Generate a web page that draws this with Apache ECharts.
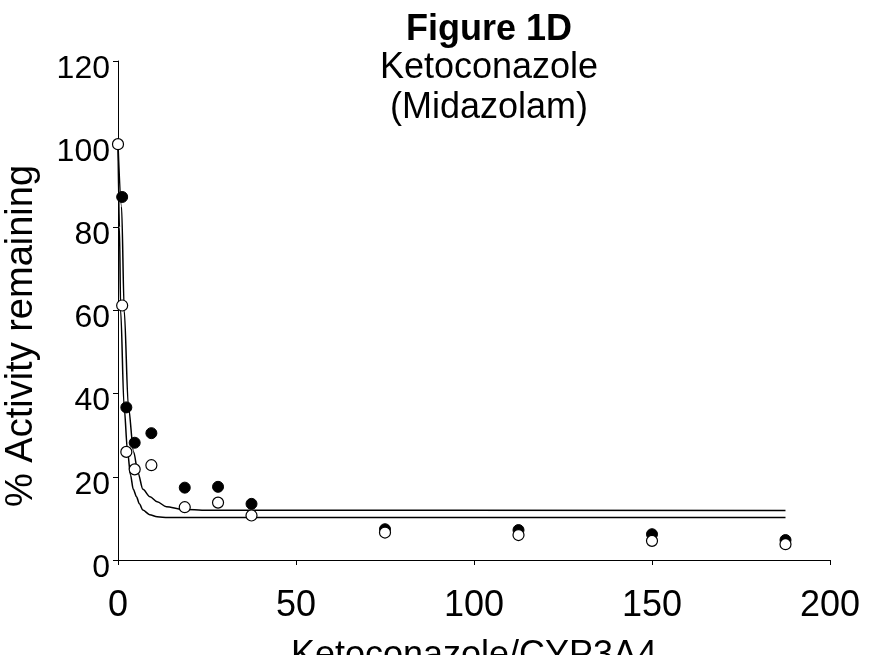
<!DOCTYPE html>
<html>
<head>
<meta charset="utf-8">
<script src="https://cdn.jsdelivr.net/npm/echarts@6/dist/echarts.min.js"></script>
<style>html,body{margin:0;padding:0;background:#fff;}#c{width:888px;height:655px;}</style>
</head>
<body>
<div id="c"></div>
<script>
// Data
var xTicks = [0, 50, 100, 150, 200];
var yTicks = [0, 20, 40, 60, 80, 100, 120];
var ratioFilled = [1.17, 2.34, 4.69, 9.375, 18.75, 28.1, 37.5, 75, 112.5, 150, 187.5];
var activityFilled = [87.3, 36.7, 28.2, 30.5, 17.4, 17.6, 13.5, 7.4, 7.2, 6.2, 4.8];
var ratioOpen = [0, 1.17, 2.34, 4.69, 9.375, 18.75, 28.1, 37.5, 75, 112.5, 150, 187.5];
var activityOpen = [100, 61.2, 26.0, 21.8, 22.8, 12.7, 13.8, 10.7, 6.6, 6.0, 4.6, 3.8];
// fitted curves
var fitFilledX = [0, 1.0, 1.75, 2.9, 4.4, 5.6, 7, 9, 11, 13.6, 18, 25, 187.5];
var fitFilledY = [100, 85, 60, 37, 26, 21, 17, 15.2, 14, 12.8, 12.2, 11.95, 11.9];
var fitOpenX = [0, 0.4, 0.75, 1.7, 2.7, 3.5, 4.3, 5.2, 6, 7, 8.9, 11, 14, 187.5];
var fitOpenY = [100, 80, 60, 37, 26, 20.5, 17, 15.2, 13.5, 12.0, 10.9, 10.4, 10.2, 10.2];

function pairs(xs, ys) { return xs.map(function (x, i) { return [x, ys[i]]; }); }

var FONT = '"Liberation Sans", Arial, sans-serif';
var chart = echarts.init(document.getElementById('c'), null, { renderer: 'canvas' });
chart.setOption({
  animation: false,
  backgroundColor: '#fff',
  grid: { left: 118, right: 58, top: 61, bottom: 95, containLabel: false, outerBoundsMode: 'none' },
  xAxis: {
    type: 'value', min: xTicks[0], max: xTicks[xTicks.length - 1], interval: 50,
    axisLine: { show: true, onZero: false, lineStyle: { color: '#000', width: 1 } },
    axisTick: { show: true, inside: false, length: 5, lineStyle: { color: '#000' } },
    splitLine: { show: false },
    axisLabel: { color: '#000', fontSize: 36, fontFamily: FONT, margin: 28 },
    name: 'Ketoconazole/CYP3A4', nameLocation: 'middle', nameGap: 78,
    nameTextStyle: { color: '#000', fontSize: 36, fontFamily: FONT }
  },
  yAxis: {
    type: 'value', min: yTicks[0], max: yTicks[yTicks.length - 1], interval: 20,
    axisLine: { show: true, onZero: false, lineStyle: { color: '#000', width: 1 } },
    axisTick: { show: true, inside: false, length: 5, lineStyle: { color: '#000' } },
    splitLine: { show: false },
    axisLabel: { color: '#000', fontSize: 32, fontFamily: FONT, margin: 8, verticalAlign: 'top', lineHeight: 16 }
  },
  graphic: [
    { type: 'text', x: 489, y: 12, style: { text: 'Figure 1D', font: 'bold 36px ' + FONT, fill: '#000', textAlign: 'center', textVerticalAlign: 'top' } },
    { type: 'text', x: 489, y: 50, style: { text: 'Ketoconazole', font: '36px ' + FONT, fill: '#000', textAlign: 'center', textVerticalAlign: 'top' } },
    { type: 'text', x: 489, y: 90, style: { text: '(Midazolam)', font: '36px ' + FONT, fill: '#000', textAlign: 'center', textVerticalAlign: 'top' } },
    { type: 'text', x: 22, y: 336, rotation: Math.PI / 2, style: { text: '% Activity remaining', font: '38px ' + FONT, fill: '#000', textAlign: 'center', textVerticalAlign: 'middle' } }
  ],
  series: [
    { type: 'line', data: pairs(fitFilledX, fitFilledY), showSymbol: false, smooth: 0.3, smoothMonotone: 'x',
      lineStyle: { color: '#000', width: 1.5 }, z: 1 },
    { type: 'line', data: pairs(fitOpenX, fitOpenY), showSymbol: false, smooth: 0.3, smoothMonotone: 'x',
      lineStyle: { color: '#000', width: 1.5 }, z: 1 },
    { type: 'scatter', data: pairs(ratioFilled, activityFilled), symbol: 'circle', symbolSize: 11,
      itemStyle: { color: '#000', borderColor: '#000', borderWidth: 1, opacity: 1 }, z: 2 },
    { type: 'scatter', data: pairs(ratioOpen, activityOpen), symbol: 'circle', symbolSize: 11,
      itemStyle: { color: '#fff', borderColor: '#000', borderWidth: 1.2, opacity: 1 }, z: 3 }
  ]
});
</script>
</body>
</html>
